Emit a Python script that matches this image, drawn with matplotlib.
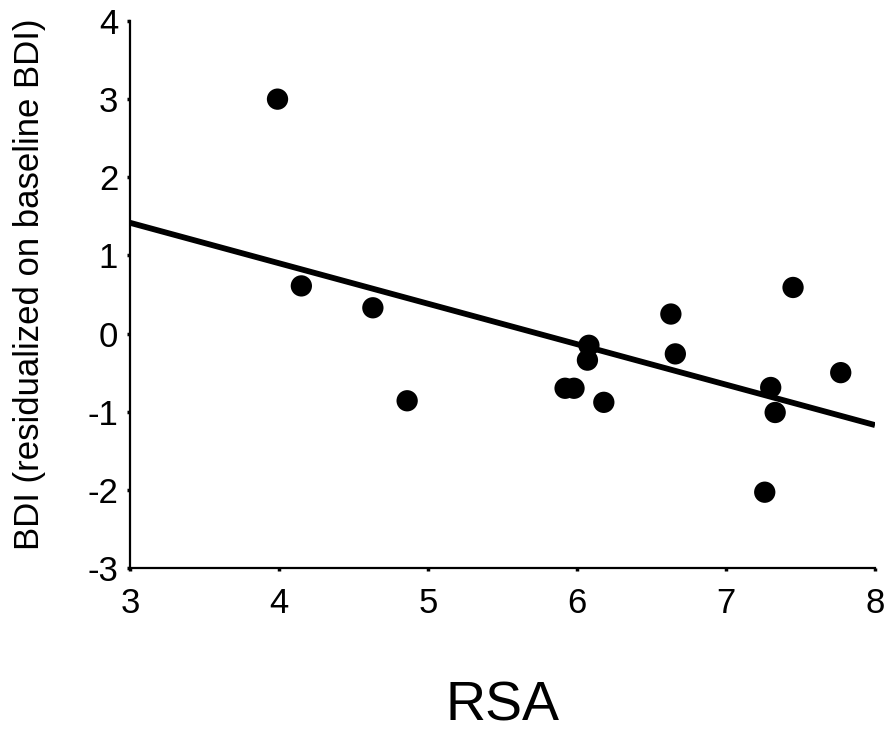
import numpy as np
import matplotlib.pyplot as plt

plt.rcParams['font.family'] = ['Liberation Sans', 'DejaVu Sans']
plt.rcParams['axes.unicode_minus'] = False

# Data ----------------------------------------------------------
rsa = [3.99, 4.15, 4.63, 4.86, 5.92, 5.98, 6.08, 6.07, 6.18,
       6.63, 6.66, 7.26, 7.30, 7.33, 7.45, 7.77]
bdi = [3.00, 0.61, 0.33, -0.86, -0.70, -0.70, -0.15, -0.34, -0.88,
       0.25, -0.26, -2.03, -0.69, -1.01, 0.59, -0.50]
x_ticks = [3, 4, 5, 6, 7, 8]
y_ticks = [-3, -2, -1, 0, 1, 2, 3, 4]

fig = plt.figure(figsize=(8.87, 7.32), dpi=100)
ax = fig.add_axes([130 / 887, 1 - 568 / 732, 745 / 887, 547 / 732])

# regression line
slope, icpt = np.polyfit(rsa, bdi, 1)
xl = np.array([3, 8])
ax.plot(xl, icpt + slope * xl, color='black', lw=4.2, solid_capstyle='butt')

ax.scatter(rsa, bdi, s=235, color='black', zorder=3, edgecolors='none')

ax.set_xlim(3, 8)
ax.set_ylim(-3, 4)
ax.set_xticks(x_ticks)
ax.set_yticks(y_ticks)
ax.spines['top'].set_visible(False)
ax.spines['right'].set_visible(False)
ax.spines['left'].set_linewidth(1.6)
ax.spines['bottom'].set_linewidth(1.6)
ax.tick_params(axis='both', direction='out', length=2.5, width=2.5,
               labelsize=25)
ax.tick_params(axis='x', pad=11)
ax.tick_params(axis='y', pad=6)

ax.set_xlabel('RSA', fontsize=40, labelpad=44)
ax.set_ylabel('BDI (residualized on baseline BDI)', fontsize=25, labelpad=30,
              y=0.518)

fig.savefig('out.png', dpi=100)
